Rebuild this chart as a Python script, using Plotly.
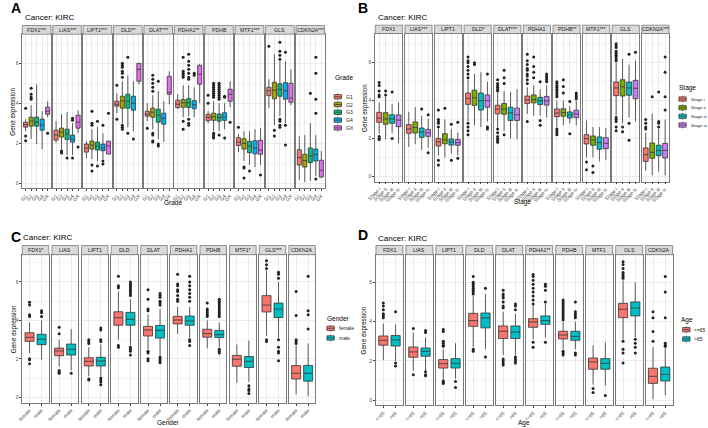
import plotly.graph_objects as go

W, H = 708, 428
FONT = "Liberation Sans, Arial, sans-serif"
BORDER = "#7a7a7a"

# ---------------- data: panel A (Grade) ----------------
grade_groups = ["G1", "G2", "G3", "G4", "GX"]
grade_colors = ["#F8766D", "#A3A500", "#00BF7D", "#00B0F6", "#E76BF3"]
grade_strips = ["FDX1***", "LIAS***", "LIPT1***", "DLD**", "DLAT***",
                "PDHA1**", "PDHB", "MTF1***", "GLS", "CDKN2A***"]
grade_med = [[2.92, 3.10, 3.05, 2.90, 3.60], [2.40, 2.55, 2.45, 2.20, 3.05],
             [1.75, 1.90, 1.85, 1.75, 1.85], [3.95, 4.12, 4.10, 4.00, 5.70],
             [3.45, 3.55, 3.40, 3.25, 4.55], [3.95, 4.02, 4.02, 3.92, 5.45],
             [3.28, 3.32, 3.28, 3.30, 4.45], [2.05, 1.98, 1.85, 1.76, 1.65],
             [4.62, 4.65, 4.70, 4.62, 4.25], [1.28, 1.12, 1.35, 1.42, 0.64]]
grade_q1 = [[2.80, 2.85, 2.85, 2.65, 3.45], [2.15, 2.30, 2.18, 2.05, 2.75],
            [1.55, 1.70, 1.65, 1.62, 1.45], [3.85, 3.75, 3.75, 3.65, 5.10],
            [3.35, 3.30, 3.05, 2.95, 4.45], [3.78, 3.80, 3.78, 3.72, 4.95],
            [3.12, 3.14, 3.10, 3.14, 4.10], [1.88, 1.70, 1.52, 1.46, 1.44],
            [4.38, 4.22, 4.35, 4.20, 4.05], [0.90, 0.80, 1.02, 1.10, 0.30]]
grade_q3 = [[3.05, 3.30, 3.30, 3.20, 3.80], [2.65, 2.75, 2.70, 2.40, 3.40],
            [1.95, 2.10, 2.05, 1.95, 2.10], [4.10, 4.35, 4.45, 4.35, 6.00],
            [3.60, 3.75, 3.70, 3.50, 5.35], [4.15, 4.18, 4.23, 4.13, 5.90],
            [3.44, 3.50, 3.46, 3.52, 4.70], [2.27, 2.22, 2.09, 2.12, 2.14],
            [4.80, 5.05, 4.97, 5.03, 5.00], [1.67, 1.44, 1.76, 1.70, 1.14]]
grade_lo = [[2.60, 2.20, 1.95, 1.70, 3.30], [2.00, 1.70, 1.40, 1.40, 2.50],
            [1.25, 1.20, 1.10, 1.20, 1.45], [3.50, 3.00, 2.80, 2.60, 4.95],
            [3.10, 2.70, 2.20, 2.05, 3.95], [3.70, 3.30, 3.35, 3.30, 4.00],
            [3.00, 2.60, 2.60, 2.70, 3.80], [1.55, 1.10, 0.90, 0.80, 0.90],
            [3.75, 2.90, 3.35, 3.00, 3.90], [0.15, 0.05, 0.10, 0.35, 0.25]]
grade_hi = [[3.20, 3.90, 4.95, 3.60, 4.10], [3.10, 3.45, 3.55, 3.00, 3.65],
            [2.10, 2.70, 2.80, 2.50, 2.10], [4.50, 5.10, 5.40, 5.10, 6.00],
            [4.00, 4.40, 4.60, 4.10, 5.60], [4.45, 4.90, 4.90, 4.80, 5.95],
            [3.60, 4.10, 4.00, 4.00, 5.10], [2.45, 2.60, 2.60, 2.70, 2.75],
            [5.20, 6.45, 6.10, 6.10, 5.70], [2.35, 2.40, 3.00, 2.40, 1.60]]
grade_out = [
    [[3.75, 2.35, 2.12], [4.20, 4.30, 4.45, 4.75], [], [], [2.50]],
    [[], [1.60, 1.55, 1.50], [1.25], [3.25, 3.15, 1.25], [1.80]],
    [[], [3.60, 3.00, 2.90, 0.90, 0.60], [3.10, 0.85], [2.90, 1.10, 0.95], [3.50]],
    [[4.90, 3.20], [5.30, 5.50, 5.60, 5.80, 5.90, 6.00, 2.90, 2.80, 2.70], [6.30, 2.50], [2.20], []],
    [[2.75], [4.60, 4.80, 5.00, 5.20, 5.40, 2.50, 2.40, 2.10, 2.05], [5.10, 1.95, 1.85], [], []],
    [[], [6.30, 5.60, 5.50, 5.40, 5.30, 3.10, 2.70],
     [6.45, 6.10, 5.90, 5.70, 5.50, 5.30, 5.20, 3.20, 3.00, 2.90], [5.50, 5.40], []],
    [[4.40, 4.00], [5.00, 4.90, 4.80, 4.70, 4.60, 4.50, 4.40, 4.30, 2.50, 2.40, 2.30, 2.25],
     [5.00, 4.90, 4.80, 4.70, 4.60, 4.50, 4.40, 4.30, 4.20, 2.40], [4.35, 4.30, 2.25], [3.05]],
    [[2.80], [0.80, 0.75, 0.25], [0.60], [], [0.40]],
    [[6.85], [2.65, 2.35], [7.05, 6.60, 6.40, 6.20, 3.20, 3.10, 2.90, 2.80], [6.55, 2.90, 1.90], []],
    [[], [], [4.50], [6.30, 5.50, 4.20, 3.50, 0.20], []],
]

# ---------------- data: panel B (Stage) ----------------
stage_groups = ["Stage i", "Stage ii", "Stage iii", "Stage iv"]
stage_colors = ["#F8766D", "#7CAE00", "#00BFC4", "#C77CFF"]
stage_strips = ["FDX1", "LIAS***", "LIPT1", "DLD*", "DLAT***",
                "PDHA1", "PDHB**", "MTF1***", "GLS", "CDKN2A***"]
stage_med = [[3.08, 3.03, 3.03, 2.97], [2.50, 2.58, 2.34, 2.30], [1.82, 1.92, 1.82, 1.78],
             [4.12, 4.15, 4.00, 4.00], [3.55, 3.55, 3.35, 3.25], [4.03, 4.05, 4.00, 3.98],
             [3.34, 3.36, 3.24, 3.29], [1.99, 1.92, 1.78, 1.74], [4.67, 4.73, 4.67, 4.65],
             [1.14, 1.27, 1.37, 1.37]]
stage_q1 = [[2.85, 2.75, 2.80, 2.62], [2.27, 2.29, 2.06, 2.11], [1.60, 1.72, 1.65, 1.64],
            [3.80, 3.75, 3.50, 3.65], [3.30, 3.28, 2.95, 2.95], [3.84, 3.88, 3.79, 3.76],
            [3.15, 3.17, 3.08, 3.10], [1.71, 1.64, 1.43, 1.46], [4.26, 4.24, 4.28, 4.10],
            [0.79, 0.95, 1.09, 0.97]]
stage_q3 = [[3.38, 3.36, 3.25, 3.24], [2.73, 2.87, 2.55, 2.48], [2.00, 2.25, 1.97, 1.94],
            [4.40, 4.55, 4.40, 4.30], [3.75, 3.85, 3.65, 3.60], [4.24, 4.30, 4.17, 4.22],
            [3.56, 3.57, 3.40, 3.49], [2.20, 2.13, 2.08, 2.04], [4.98, 5.10, 4.98, 5.07],
            [1.50, 1.76, 1.64, 1.74]]
stage_lo = [[2.25, 1.95, 2.30, 1.75], [1.55, 1.70, 1.40, 1.50], [1.10, 1.00, 1.20, 1.10],
            [2.90, 2.70, 2.60, 2.90], [2.60, 2.40, 2.00, 1.95], [3.30, 3.20, 3.20, 3.10],
            [2.60, 2.70, 2.80, 2.70], [1.00, 1.00, 0.80, 0.85], [3.20, 2.80, 3.10, 2.90],
            [0.30, 0.05, 0.25, 0.05]]
stage_hi = [[3.90, 4.20, 3.80, 3.90], [3.40, 3.65, 3.20, 3.05], [2.50, 3.00, 2.50, 2.30],
            [5.10, 5.40, 5.50, 5.00], [4.40, 4.50, 4.45, 4.60], [4.70, 4.80, 4.60, 4.80],
            [4.00, 4.00, 3.70, 4.00], [2.95, 2.60, 2.60, 2.55], [6.00, 6.20, 5.90, 6.10],
            [2.30, 3.30, 2.50, 3.00]]
stage_out = [
    [[4.95, 4.80, 4.50, 4.30, 4.20, 2.10, 2.00, 1.95], [4.50, 4.30], [4.45, 2.00], []],
    [[], [], [3.55], [3.25, 1.25]],
    [[3.50, 3.00, 2.90, 2.80, 2.60, 0.85, 0.60], [3.60], [2.75, 0.85], [2.85, 0.95]],
    [[6.30, 6.10, 6.00, 5.80, 5.60, 5.40, 5.20, 2.80, 2.60, 2.40, 2.20], [6.00, 5.90], [], [5.40, 2.60, 2.50]],
    [[5.10, 4.90, 4.80, 4.70, 4.60, 4.50, 2.50, 2.30, 2.10, 2.00, 1.90, 1.80], [5.60, 5.20, 4.90, 2.20], [], []],
    [[6.45, 6.10, 5.90, 5.70, 5.60, 5.40, 5.30, 5.10, 4.90, 2.90], [6.30, 5.80, 5.50, 5.20],
     [5.00, 2.95, 2.70], [5.40, 5.30, 5.20, 5.10, 5.00]],
    [[5.00, 4.90, 4.80, 4.70, 4.60, 4.50, 4.40, 4.30, 4.20, 2.50, 2.40, 2.30, 2.20], [5.10, 4.75, 4.40],
     [3.95, 2.25], [4.40, 4.30, 4.20, 4.10]],
    [[0.75, 0.35], [0.55, 0.20], [], []],
    [[7.00, 6.90, 6.80, 6.60, 6.50, 6.40, 6.30, 6.20, 6.10, 3.10, 3.00, 2.90, 2.60, 2.40], [2.60, 2.35],
     [6.45, 2.80, 1.90], [6.55]],
    [[3.00, 2.80, 2.60, 2.50], [4.20], [4.45, 2.90, 2.80, 2.60], [6.30, 5.50, 4.20, 3.50]],
]

# ---------------- data: panel C (Gender) ----------------
gender_groups = ["female", "male"]
two_colors = ["#F8766D", "#00BFC4"]
gender_strips = ["FDX1*", "LIAS", "LIPT1", "DLD", "DLAT",
                 "PDHA1", "PDHB", "MTF1*", "GLS***", "CDKN2A"]
gender_med = [[3.12, 3.02], [2.41, 2.50], [1.87, 1.89], [4.14, 4.06], [3.50, 3.48],
              [4.02, 3.97], [3.31, 3.26], [1.98, 1.87], [4.80, 4.59], [1.25, 1.25]]
gender_q1 = [[2.91, 2.74], [2.16, 2.20], [1.63, 1.63], [3.75, 3.75], [3.19, 3.08],
             [3.82, 3.75], [3.13, 3.11], [1.62, 1.55], [4.44, 4.15], [0.95, 0.84]]
gender_q3 = [[3.36, 3.28], [2.56, 2.77], [2.06, 2.08], [4.45, 4.42], [3.69, 3.74],
             [4.21, 4.23], [3.54, 3.48], [2.18, 2.12], [5.29, 4.90], [1.65, 1.66]]
gender_lo = [[2.30, 1.95], [1.60, 1.40], [1.10, 1.10], [3.00, 2.70], [2.50, 2.20],
             [3.30, 3.10], [2.55, 2.60], [0.75, 0.80], [3.20, 3.10], [0.15, 0.05]]
gender_hi = [[3.90, 4.00], [3.00, 3.55], [2.60, 2.75], [5.50, 5.10], [4.30, 4.60],
             [4.70, 4.70], [4.00, 3.90], [2.75, 2.95], [6.60, 6.00], [2.70, 2.80]]
gender_out = [
    [[4.95, 4.80, 4.30, 4.20, 2.00, 1.95, 1.75], [4.50, 4.40, 4.20]],
    [[3.65, 3.30, 1.40, 1.30, 1.25], [1.25]],
    [[3.00, 2.90, 2.80, 0.95, 0.90], [3.60, 3.50, 3.00, 2.90, 1.00, 0.90, 0.80, 0.65]],
    [[6.30, 5.80, 5.70, 2.70, 2.60], [6.00, 5.90, 5.80, 5.70, 5.60, 5.50, 5.40, 5.30, 2.60, 2.50, 2.40, 2.20]],
    [[5.60, 5.10, 4.60, 4.50, 2.40, 2.30, 2.00, 1.90], [5.40, 5.30, 5.20, 5.00, 4.90, 4.80, 2.10, 2.00, 1.90, 1.80]],
    [[6.40, 5.90, 5.80, 5.60, 5.50, 5.30, 5.10, 5.00], [6.30, 6.00, 5.80, 5.60, 5.40, 5.20, 5.00, 3.00, 2.90, 2.70]],
    [[4.90, 4.60, 4.50, 4.40, 4.30, 4.20],
     [5.10, 5.00, 4.90, 4.80, 4.70, 4.60, 4.50, 4.40, 4.30, 4.20, 2.50, 2.40, 2.30]],
    [[], [0.60, 0.45, 0.35, 0.20]],
    [[7.10, 6.90, 6.70, 3.00, 2.90], [6.50, 6.40, 6.20, 3.00, 2.60, 2.40, 2.30, 1.90]],
    [[5.50, 4.25, 3.00, 2.90, 2.80], [6.30, 4.50, 4.30, 3.55]],
]

# ---------------- data: panel D (Age) ----------------
age_groups = ["<=65", ">65"]
age_ticktext = ["&lt;=65", ">65"]
age_strips = ["FDX1", "LIAS", "LIPT1", "DLD", "DLAT",
              "PDHA1**", "PDHB", "MTF1", "GLS", "CDKN2A"]
age_med = [[3.05, 3.07], [2.46, 2.49], [1.86, 1.88], [4.05, 4.19], [3.51, 3.47],
           [3.98, 4.05], [3.32, 3.25], [1.95, 1.88], [4.63, 4.69], [1.22, 1.32]]
age_q1 = [[2.80, 2.76], [2.19, 2.24], [1.64, 1.64], [3.76, 3.68], [3.14, 3.14],
          [3.71, 3.86], [3.12, 3.05], [1.58, 1.58], [4.20, 4.29], [0.86, 0.98]]
age_q3 = [[3.27, 3.29], [2.71, 2.66], [2.07, 2.12], [4.42, 4.44], [3.78, 3.78],
          [4.15, 4.29], [3.51, 3.51], [2.15, 2.12], [4.93, 5.00], [1.63, 1.69]]
age_lo = [[2.05, 2.00], [1.50, 1.50], [1.10, 1.10], [2.70, 2.60], [2.30, 2.30],
          [3.10, 3.20], [2.60, 2.60], [0.80, 0.75], [3.10, 3.20], [0.05, 0.25]]
age_hi = [[3.90, 3.85], [3.45, 3.20], [2.60, 2.90], [5.30, 5.40], [4.50, 4.40],
          [4.80, 4.90], [4.00, 4.00], [2.80, 2.95], [6.10, 6.00], [2.70, 2.80]]
age_out = [
    [[4.95, 4.80, 4.60, 4.40, 4.30, 4.20], [4.50, 1.90, 1.75]],
    [[3.65, 1.30], [3.55, 3.45, 1.45, 1.30, 1.25]],
    [[3.60, 3.50, 3.00, 2.90, 2.80, 2.75, 1.00, 0.90, 0.85], [0.95, 0.65]],
    [[6.30, 6.00, 5.90, 5.80, 5.70, 5.60, 5.50, 5.40, 2.60, 2.50], [5.70, 2.20]],
    [[5.60, 5.40, 5.30, 5.20, 5.00, 4.80, 4.70, 2.10, 2.00, 1.90, 1.80], [4.90, 4.80, 4.60, 2.20, 2.10, 2.00, 1.90]],
    [[6.40, 6.30, 6.10, 5.90, 5.70, 5.50, 5.30, 5.10, 4.90, 2.95, 2.70], [5.90, 5.80, 5.60, 5.00, 2.95]],
    [[5.10, 5.00, 4.90, 4.80, 4.70, 4.60, 4.50, 4.40, 4.30, 4.20, 4.10, 2.50, 2.40, 2.30],
     [5.00, 4.50, 4.40, 4.30, 4.20, 2.40, 2.30]],
    [[0.60, 0.40], [0.25]],
    [[7.05, 6.90, 6.70, 6.50, 6.40, 6.30, 6.20, 3.00, 2.60, 2.40, 1.90], [3.10, 2.90, 2.70, 2.40]],
    [[4.50, 4.20, 3.50, 3.00], [6.30, 5.50, 4.20, 2.90, 2.80, 2.75]],
]


def px(x):
    return x / W


def py(y):
    return 1 - y / H


# layout of the four panels (pixel geometry)
panels = [
    dict(letter="A", groups=grade_groups, ticktext=grade_groups, colors=grade_colors, strips=grade_strips,
         med=grade_med, q1=grade_q1, q3=grade_q3, lo=grade_lo, hi=grade_hi, out=grade_out,
         xtitle="Grade", left=13.5, step=30.8, width=29.0, top=34.2, bottom=188.3, zero=183.0,
         unit=19.95, strip_top=25.5, letter_xy=(7, 8), title_xy=(14, 17.5), ytitle_x=4.5,
         xtitle_y=202, leg_title=(328, 78), leg_x=329.3, leg_y0=96.7, leg_dy=7.8, leg_font=5),
    dict(letter="B", groups=stage_groups, ticktext=stage_groups, colors=stage_colors, strips=stage_strips,
         med=stage_med, q1=stage_q1, q3=stage_q3, lo=stage_lo, hi=stage_hi, out=stage_out,
         xtitle="Stage", left=371.0, step=30.0, width=27.5, top=33.5, bottom=181.5, zero=176.3,
         unit=18.93, strip_top=25.2, letter_xy=(359, 8), title_xy=(372, 17.5), ytitle_x=361,
         xtitle_y=202, leg_title=(676.5, 88), leg_x=678.5, leg_y0=99, leg_dy=8.67, leg_font=4.4),
    dict(letter="C", groups=gender_groups, ticktext=gender_groups, colors=two_colors, strips=gender_strips,
         med=gender_med, q1=gender_q1, q3=gender_q3, lo=gender_lo, hi=gender_hi, out=gender_out,
         xtitle="Gender", left=13.5, step=30.0, width=26.8, top=254.7, bottom=402.7, zero=397.3,
         unit=19.22, strip_top=245.5, letter_xy=(7, 236.5), title_xy=(12, 237.5), ytitle_x=4.5,
         xtitle_y=422, leg_title=(320.5, 318), leg_x=322, leg_y0=328.3, leg_dy=9.7, leg_font=5),
    dict(letter="D", groups=age_groups, ticktext=age_ticktext, colors=two_colors, strips=age_strips,
         med=age_med, q1=age_q1, q3=age_q3, lo=age_lo, hi=age_hi, out=age_out,
         xtitle="Age", left=371.7, step=30.35, width=27.3, top=254.7, bottom=405.3, zero=400.3,
         unit=19.67, strip_top=245.5, letter_xy=(359, 235), title_xy=(372, 238), ytitle_x=360,
         xtitle_y=423, leg_title=(679, 320), leg_x=682.3, leg_y0=329.7, leg_dy=9.3, leg_font=5),
]

fig = go.Figure()
shapes = []
annotations = []
axes = {}


def text(x, y, s, size, color="#000000", xanchor="center", angle=0):
    annotations.append(dict(x=px(x), y=py(y), xref="paper", yref="paper", text=s, showarrow=False,
                            xanchor=xanchor, yanchor="middle", textangle=angle,
                            font=dict(size=size, color=color, family=FONT)))


for pi, p in enumerate(panels):
    n = len(p["groups"])
    lo_r = -(p["bottom"] - p["zero"]) / p["unit"]
    hi_r = (p["zero"] - p["top"]) / p["unit"]
    for j in range(10):
        k = pi * 10 + j + 1
        xa = "x" if k == 1 else f"x{k}"
        ya = "y" if k == 1 else f"y{k}"
        x0 = p["left"] + j * p["step"]
        x1 = x0 + p["width"]

        for g, grp in enumerate(p["groups"]):
            fig.add_trace(go.Box(
                x=[grp], q1=[p["q1"][j][g]], median=[p["med"][j][g]], q3=[p["q3"][j][g]],
                lowerfence=[p["lo"][j][g]], upperfence=[p["hi"][j][g]],
                width=0.75, whiskerwidth=0, boxpoints=False,
                fillcolor=p["colors"][g], line=dict(color="#333333", width=0.8),
                xaxis=xa, yaxis=ya, showlegend=False, hoverinfo="skip"))
        ox, oy = [], []
        for g, grp in enumerate(p["groups"]):
            for v in p["out"][j][g]:
                ox.append(grp)
                oy.append(v)
        fig.add_trace(go.Scatter(x=ox, y=oy, mode="markers", marker=dict(size=3, color="#222222"),
                                 xaxis=xa, yaxis=ya, showlegend=False, hoverinfo="skip"))

        axes["xaxis" if k == 1 else f"xaxis{k}"] = dict(
            domain=[px(x0), px(x1)], anchor=ya, type="category",
            categoryorder="array", categoryarray=p["groups"], range=[-0.6, n - 0.4],
            tickmode="array", tickvals=p["groups"], ticktext=p["ticktext"],
            showgrid=True, gridcolor="#ebebeb", gridwidth=0.6,
            showline=True, mirror=True, linecolor=BORDER, linewidth=0.8,
            ticks="outside", ticklen=2, tickwidth=0.6, tickcolor="#444444",
            tickangle=-45, tickfont=dict(size=5, color="#4d4d4d", family=FONT),
            zeroline=False, fixedrange=True)
        axes["yaxis" if k == 1 else f"yaxis{k}"] = dict(
            domain=[py(p["bottom"]), py(p["top"])], anchor=xa, range=[lo_r, hi_r],
            tickmode="linear", tick0=0, dtick=2,
            showgrid=True, gridcolor="#ebebeb", gridwidth=0.6,
            minor=dict(tick0=0, dtick=1, showgrid=True, gridcolor="#f4f4f4", gridwidth=0.4),
            showline=True, mirror=True, linecolor=BORDER, linewidth=0.8,
            showticklabels=(j == 0), ticks="outside" if j == 0 else "", ticklen=2,
            tickwidth=0.6, tickcolor="#444444",
            tickfont=dict(size=5, color="#4d4d4d", family=FONT),
            zeroline=False, fixedrange=True)

        # facet strip
        shapes.append(dict(type="rect", xref="paper", yref="paper",
                           x0=px(x0), x1=px(x1), y0=py(p["top"]), y1=py(p["strip_top"]),
                           fillcolor="#d9d9d9", line=dict(color=BORDER, width=0.8)))
        text((x0 + x1) / 2, (p["top"] + p["strip_top"]) / 2, p["strips"][j], 5.2, "#1a1a1a")

    # titles
    lx, ly = p["letter_xy"]
    text(lx, ly, "<b>%s</b>" % p["letter"], 14)
    tx, ty = p["title_xy"]
    text(tx, ty, "Cancer: KIRC", 8, xanchor="left")
    text(p["ytitle_x"], (p["top"] + p["bottom"]) / 2, "Gene expression", 6.3, angle=-90)
    right = p["left"] + 9 * p["step"] + p["width"]
    text((p["left"] + right) / 2, p["xtitle_y"], p["xtitle"], 6.5)

    # legend (drawn by hand)
    gx, gy = p["leg_title"]
    text(gx, gy, p["xtitle"], 6.5, xanchor="left")
    kw = 7.5
    for g, grp in enumerate(p["ticktext"]):
        cy = p["leg_y0"] + g * p["leg_dy"]
        kx0 = p["leg_x"]
        cx = kx0 + kw / 2
        shapes.append(dict(type="line", xref="paper", yref="paper", x0=px(cx), x1=px(cx),
                           y0=py(cy - 3.4), y1=py(cy + 3.4), line=dict(color="#333333", width=0.7)))
        shapes.append(dict(type="rect", xref="paper", yref="paper", x0=px(kx0), x1=px(kx0 + kw),
                           y0=py(cy + 2.2), y1=py(cy - 2.2), fillcolor=p["colors"][g],
                           line=dict(color="#333333", width=0.7)))
        shapes.append(dict(type="line", xref="paper", yref="paper", x0=px(kx0), x1=px(kx0 + kw),
                           y0=py(cy), y1=py(cy), line=dict(color="#333333", width=0.7)))
        text(kx0 + kw + 2.5, cy, grp, p["leg_font"], "#1a1a1a", xanchor="left")

fig.update_layout(
    width=W, height=H, margin=dict(l=0, r=0, t=0, b=0),
    paper_bgcolor="white", plot_bgcolor="white",
    showlegend=False, boxmode="overlay",
    font=dict(family=FONT, size=6, color="#1a1a1a"),
    shapes=shapes, annotations=annotations, **axes)

fig.write_html("out.html", config={"displayModeBar": False},
               post_script="document.body.style.margin='0';document.body.style.overflow='hidden';")
